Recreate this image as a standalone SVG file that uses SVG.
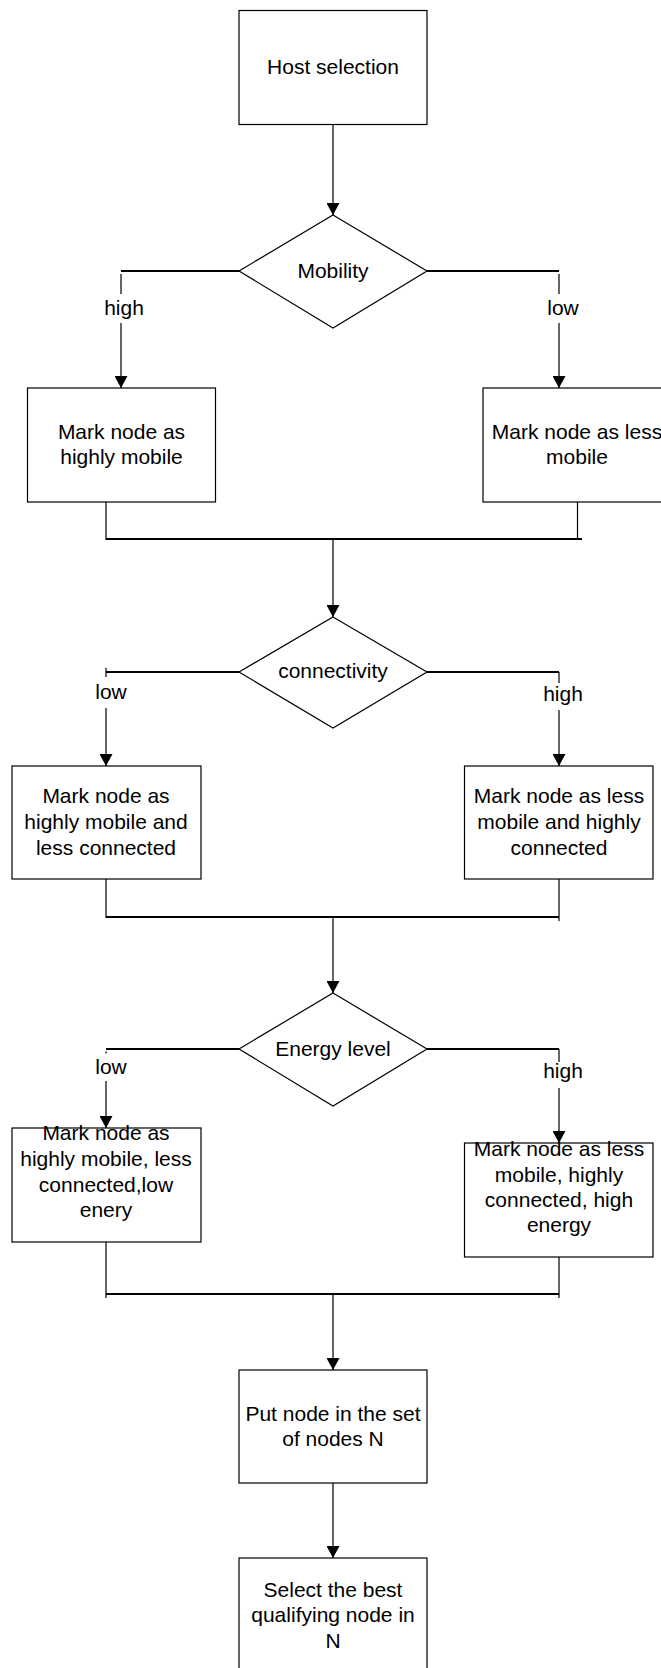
<svg xmlns="http://www.w3.org/2000/svg" width="661" height="1668" viewBox="0 0 661 1668">
<defs>
<marker id="arr" markerUnits="userSpaceOnUse" markerWidth="13" markerHeight="13" refX="12" refY="6.5" orient="auto">
<path d="M0,0 L12,6.5 L0,13 z" fill="#000"/>
</marker>
<style>
.box{fill:#fff;stroke:#000;stroke-width:1.2}
.t{font-family:"Liberation Sans",Arial,sans-serif;font-size:21px;fill:#000;text-anchor:middle}
.c{fill:none;stroke:#000;stroke-width:1.2}
.b{fill:none;stroke:#000;stroke-width:2.2}
</style>
</defs>
<rect width="661" height="1668" fill="#fff"/>
<g id="connectors">
<line class="c" x1="333" y1="124" x2="333" y2="215" marker-end="url(#arr)"/>
<polyline class="b" points="239,271 121,271"/>
<polyline class="b" points="427,271 559,271"/>
<line class="c" x1="121" y1="274" x2="121" y2="294"/>
<line class="c" x1="121" y1="323" x2="121" y2="388" marker-end="url(#arr)"/>
<line class="c" x1="559" y1="274" x2="559" y2="294"/>
<line class="c" x1="559" y1="323" x2="559" y2="388" marker-end="url(#arr)"/>
<text class="t" x="124" y="315">high</text>
<text class="t" x="563" y="315">low</text>
<line class="c" x1="106" y1="502" x2="106" y2="540"/>
<line class="c" x1="577.5" y1="502" x2="577.5" y2="540"/>
<line class="b" x1="106" y1="539" x2="582" y2="539"/>
<line class="c" x1="333" y1="539" x2="333" y2="617" marker-end="url(#arr)"/>
<line class="b" x1="239" y1="672" x2="106" y2="672"/>
<line class="c" x1="106" y1="668" x2="106" y2="677"/>
<line class="b" x1="427" y1="672" x2="559" y2="672"/>
<line class="c" x1="559" y1="672" x2="559" y2="683"/>
<text class="t" x="111" y="699">low</text>
<text class="t" x="563" y="701">high</text>
<line class="c" x1="106" y1="708" x2="106" y2="766" marker-end="url(#arr)"/>
<line class="c" x1="559" y1="710" x2="559" y2="766" marker-end="url(#arr)"/>
<line class="c" x1="106" y1="879" x2="106" y2="918"/>
<line class="c" x1="559" y1="879" x2="559" y2="921"/>
<line class="b" x1="106" y1="917" x2="559" y2="917"/>
<line class="c" x1="333" y1="917" x2="333" y2="993" marker-end="url(#arr)"/>
<line class="b" x1="239" y1="1049" x2="106" y2="1049"/>
<line class="b" x1="427" y1="1049" x2="559" y2="1049"/>
<line class="c" x1="106" y1="1051.5" x2="106" y2="1053.5"/>
<line class="c" x1="559" y1="1049" x2="559" y2="1062"/>
<text class="t" x="111" y="1074">low</text>
<text class="t" x="563" y="1078">high</text>
<line class="c" x1="106" y1="1081" x2="106" y2="1128" marker-end="url(#arr)"/>
<line class="c" x1="559" y1="1088" x2="559" y2="1143" marker-end="url(#arr)"/>
<line class="c" x1="106" y1="1242" x2="106" y2="1298"/>
<line class="c" x1="559" y1="1257" x2="559" y2="1298"/>
<line class="b" x1="106" y1="1294" x2="559" y2="1294"/>
<line class="c" x1="333" y1="1294" x2="333" y2="1370" marker-end="url(#arr)"/>
<line class="c" x1="333" y1="1483" x2="333" y2="1558" marker-end="url(#arr)"/>
</g>
<g id="host">
<rect class="box" x="239" y="10.5" width="188" height="114"/>
<text class="t" x="333" y="74">Host selection</text>
</g>
<g id="mobility">
<polygon class="box" points="333,215 427,271 333,328 239,271"/>
<text class="t" x="333" y="278">Mobility</text>
</g>
<g id="highMobile">
<rect class="box" x="27.5" y="388" width="188" height="114"/>
<text class="t" x="121.5" y="439">Mark node as</text>
<text class="t" x="121.5" y="464">highly mobile</text>
</g>
<g id="lessMobile">
<rect class="box" x="483" y="388" width="188" height="114"/>
<text class="t" x="577" y="439">Mark node as less</text>
<text class="t" x="577" y="464">mobile</text>
</g>
<g id="connectivity">
<polygon class="box" points="333,617 427,672 333,728 239,672"/>
<text class="t" x="333" y="678">connectivity</text>
</g>
<g id="lessConnected">
<rect class="box" x="12" y="766" width="189" height="113"/>
<text class="t" x="106" y="803">Mark node as</text>
<text class="t" x="106" y="829">highly mobile and</text>
<text class="t" x="106" y="855">less connected</text>
</g>
<g id="highlyConnected">
<rect class="box" x="464.5" y="766" width="188.5" height="113"/>
<text class="t" x="559" y="803">Mark node as less</text>
<text class="t" x="559" y="829">mobile and highly</text>
<text class="t" x="559" y="855">connected</text>
</g>
<g id="energy">
<polygon class="box" points="333,993 427,1049 333,1106 239,1049"/>
<text class="t" x="333" y="1056">Energy level</text>
</g>
<g id="lowEnergy">
<rect class="box" x="12" y="1128" width="189" height="114"/>
<text class="t" x="106" y="1140">Mark node as</text>
<text class="t" x="106" y="1166">highly mobile, less</text>
<text class="t" x="106" y="1192">connected,low</text>
<text class="t" x="106" y="1217">enery</text>
</g>
<g id="highEnergy">
<rect class="box" x="464.5" y="1143" width="188.5" height="114"/>
<text class="t" x="559" y="1156">Mark node as less</text>
<text class="t" x="559" y="1182">mobile, highly</text>
<text class="t" x="559" y="1207">connected, high</text>
<text class="t" x="559" y="1232">energy</text>
</g>
<g id="putNode">
<rect class="box" x="239" y="1370" width="188" height="113"/>
<text class="t" x="333" y="1421">Put node in the set</text>
<text class="t" x="333" y="1446">of nodes N</text>
</g>
<g id="selectBest">
<rect class="box" x="239" y="1558" width="188" height="114"/>
<text class="t" x="333" y="1597">Select the best</text>
<text class="t" x="333" y="1622">qualifying node in</text>
<text class="t" x="333" y="1648">N</text>
</g>
</svg>
